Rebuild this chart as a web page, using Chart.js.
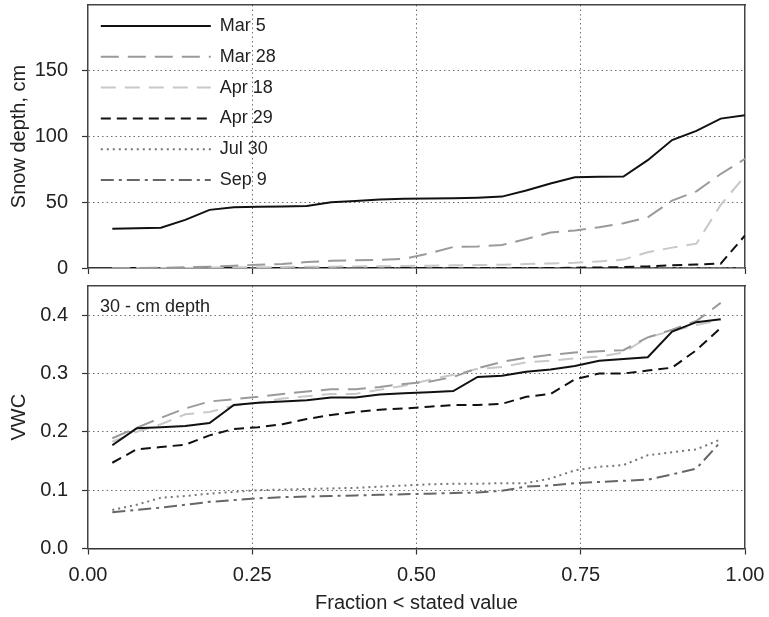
<!DOCTYPE html>
<html>
<head>
<meta charset="utf-8">
<script src="https://cdn.jsdelivr.net/npm/chart.js@4.4.0/dist/chart.umd.min.js"></script>
<style>
  body { margin: 0; background: #fff; }
  #wrap { position: relative; width: 769px; height: 617px; }
  canvas { position: absolute; left: 0; }
  #snow { top: 0; }
  #vwc { top: 280px; }
  #note { position: absolute; left: 100px; top: 296px; line-height: 20px;
          font: 18px "Liberation Sans", Arial, sans-serif; color: #222; }
</style>
</head>
<body>
<div id="wrap">
  <canvas id="snow" width="769" height="280"></canvas>
  <canvas id="vwc" width="769" height="337"></canvas>
  <div id="note">30 - cm depth</div>
</div>
<script>
// fechas de muestreo (una serie por fecha)
const dates = ["Mar 5", "Mar 28", "Apr 18", "Apr 29", "Jul 30", "Sep 9"];

// fracción acumulada (eje x)
const fracSnow = [0.037, 0.074, 0.111, 0.148, 0.185, 0.222, 0.259, 0.296, 0.333, 0.370, 0.407, 0.444, 0.481, 0.519,
  0.556, 0.593, 0.630, 0.667, 0.704, 0.741, 0.778, 0.815, 0.852, 0.889, 0.926, 0.963, 1.000];
const fracVwc = [0.037, 0.074, 0.111, 0.148, 0.185, 0.222, 0.259, 0.296, 0.333, 0.370, 0.407, 0.444, 0.481, 0.519,
  0.556, 0.593, 0.630, 0.667, 0.704, 0.741, 0.778, 0.815, 0.852, 0.889, 0.926, 0.963];

// profundidad de nieve, cm
const snowMar5 = [29.8, 30.2, 30.6, 36.6, 44.2, 46.2, 46.5, 46.8, 47.2, 50, 51, 52, 52.7, 52.8, 53, 53.5, 54.3, 59,
  64.2, 69, 69.3, 69.5, 82, 97.3, 104.3, 113.6, 116.2];
const snowMar28 = [0, 0, 0.2, 0.5, 1, 1.8, 2.5, 3, 4.5, 5.5, 5.8, 6.2, 7, 11, 16, 16.4, 17.5, 22, 27, 28.6, 31, 34,
  38.6, 51.3, 58.3, 71.5, 83];
const snowApr18 = [0, 0, 0, 0, 0.3, 0.5, 0.5, 0.8, 1, 1, 1.2, 1.3, 1.5, 1.8, 2, 2.2, 2.5, 3, 3.5, 4, 5, 6.4, 12, 15.5,
  18.5, 48, 70];
const snowApr29 = [0, 0, 0, 0, 0, 0, 0, 0, 0, 0, 0, 0, 0, 0, 0, 0, 0, 0, 0, 0.2, 0.4, 0.7, 1.2, 2, 2.7, 3.3, 24.8];
const snowJul30 = [0, 0, 0, 0, 0, 0, 0, 0, 0, 0, 0, 0, 0, 0, 0, 0, 0, 0, 0, 0, 0, 0, 0, 0, 0, 0, 0];
const snowSep9 = [0, 0, 0, 0, 0, 0, 0, 0, 0, 0, 0, 0, 0, 0, 0, 0, 0, 0, 0, 0, 0, 0, 0, 0, 0, 0, 0];

// contenido volumétrico de agua a 30 cm
const vwcMar5 = [0.177, 0.206, 0.208, 0.210, 0.215, 0.246, 0.250, 0.252, 0.254, 0.259, 0.259, 0.264, 0.266, 0.268,
  0.270, 0.294, 0.296, 0.303, 0.307, 0.313, 0.322, 0.325, 0.328, 0.372, 0.388, 0.393];
const vwcMar28 = [0.189, 0.207, 0.224, 0.240, 0.252, 0.256, 0.260, 0.265, 0.269, 0.273, 0.273, 0.277, 0.282, 0.286,
  0.294, 0.309, 0.320, 0.327, 0.332, 0.336, 0.338, 0.340, 0.362, 0.375, 0.390, 0.421];
const vwcApr18 = [0.183, 0.200, 0.213, 0.230, 0.234, 0.245, 0.250, 0.257, 0.261, 0.265, 0.265, 0.272, 0.279, 0.289,
  0.298, 0.308, 0.311, 0.319, 0.322, 0.326, 0.329, 0.336, 0.362, 0.373, 0.383, 0.392];
const vwcApr29 = [0.147, 0.170, 0.174, 0.178, 0.194, 0.205, 0.208, 0.213, 0.222, 0.229, 0.234, 0.238, 0.240, 0.243,
  0.246, 0.246, 0.248, 0.260, 0.265, 0.290, 0.300, 0.300, 0.305, 0.310, 0.340, 0.378];
const vwcJul30 = [0.066, 0.075, 0.087, 0.090, 0.094, 0.097, 0.100, 0.101, 0.102, 0.103, 0.104, 0.106, 0.108, 0.110,
  0.111, 0.111, 0.112, 0.112, 0.120, 0.134, 0.140, 0.143, 0.160, 0.165, 0.170, 0.187];
const vwcSep9 = [0.062, 0.066, 0.070, 0.075, 0.080, 0.083, 0.086, 0.088, 0.089, 0.090, 0.091, 0.092, 0.093, 0.094,
  0.095, 0.096, 0.099, 0.106, 0.108, 0.112, 0.114, 0.116, 0.118, 0.127, 0.137, 0.183];

// estilos de línea, en el mismo orden que las fechas
const lineStyles = [
  { color: "#111111", dash: [] },
  { color: "#9a9a9a", dash: [18, 9] },
  { color: "#c8c8c8", dash: [15, 9] },
  { color: "#111111", dash: [10, 6] },
  { color: "#777777", dash: [2, 4] },
  { color: "#666666", dash: [13, 5, 3, 5] },
];

Chart.defaults.font.family = '"Liberation Sans", Arial, Helvetica, sans-serif';
Chart.defaults.font.size = 20;
Chart.defaults.color = "#222";

function buildDatasets(xs, series) {
  return series.map((ys, i) => ({
    label: dates[i],
    data: ys.map((y, j) => ({ x: xs[j], y: y })),
    borderColor: lineStyles[i].color,
    borderDash: lineStyles[i].dash,
    borderWidth: 2,
    pointRadius: 0,
    tension: 0,
    fill: false,
  }));
}

const edgeless = (lo, hi) => (ctx) =>
  ctx.tick && (ctx.tick.value === lo || ctx.tick.value === hi) ? "rgba(0,0,0,0)" : "#6f6f6f";

// quita el relleno extra que Chart.js reserva para las etiquetas de los extremos
function noPad(s) {
  s.paddingTop = 0; s.paddingBottom = 0; s.paddingLeft = 0; s.paddingRight = 0;
}

// eje x común; en el panel superior sin etiquetas
function xAxis(showLabels, height) {
  return {
    type: "linear", min: 0, max: 1,
    ticks: { stepSize: 0.25, display: showLabels, padding: 9, callback: (v) => v.toFixed(2) },
    grid: { color: edgeless(0, 1), lineWidth: 1, tickColor: "#333", tickLength: 6, tickWidth: 1.2 },
    border: { color: "#333", width: 1.5, dash: [1.5, 3] },
    title: { display: showLabels, text: "Fraction < stated value", padding: { top: 0, bottom: 2 } },
    afterFit: (s) => { s.height = height; noPad(s); },
  };
}

function yAxis(max, step, top, title, fmt) {
  return {
    type: "linear", min: 0, max: max,
    ticks: { stepSize: step, padding: 14, callback: fmt },
    grid: { color: edgeless(0, null), lineWidth: 1, tickColor: "#333", tickLength: 6, tickWidth: 1.2 },
    border: { color: "#444", width: 1.5, dash: [1.5, 3] },
    title: { display: true, text: title, padding: { top: 7, bottom: 0 } },
    afterBuildTicks: (s) => { s.ticks = s.ticks.filter((t) => t.value <= top + 1e-9); },
    afterFit: (s) => { s.width = 88; noPad(s); },
  };
}

// ejes vacíos que solo dibujan el marco superior y derecho
function frame(axis, pos, max) {
  return {
    axis: axis, position: pos, type: "linear", min: 0, max: max,
    ticks: { display: false }, grid: { display: false },
    border: { display: true, color: "#444", width: 1.5 },
    afterFit: (s) => { if (axis === "x") s.height = 0; else s.width = 0; noPad(s); },
  };
}

// la leyenda con usePointStyle no copia el trazo discontinuo de la serie
function legendLabels(chart) {
  return Chart.defaults.plugins.legend.labels.generateLabels(chart).map((item, i) =>
    Object.assign(item, { lineDash: lineStyles[i].dash, strokeStyle: lineStyles[i].color, lineWidth: 2 }));
}

new Chart(document.getElementById("snow"), {
  type: "line",
  data: { datasets: buildDatasets(fracSnow, [snowMar5, snowMar28, snowApr18, snowApr29, snowJul30, snowSep9]) },
  options: {
    responsive: false, animation: false, devicePixelRatio: 1,
    layout: { padding: { top: 5, right: 24, bottom: 0, left: 0 } },
    scales: {
      x: xAxis(false, 12),
      y: yAxis(200, 50, 150, "Snow depth, cm", (v) => v),
      xTop: frame("x", "top", 1),
      yRight: frame("y", "right", 200),
    },
    plugins: {
      legend: {
        position: "chartArea", align: "start",
        title: { display: true, text: " ", font: { size: 1 }, padding: { top: 3, bottom: 0 } },
        labels: {
          usePointStyle: true, pointStyle: "line", pointStyleWidth: 110,
          padding: 12.8, font: { size: 18 }, color: "#222",
          generateLabels: legendLabels,
        },
      },
      tooltip: { enabled: false },
    },
  },
});

new Chart(document.getElementById("vwc"), {
  type: "line",
  data: { datasets: buildDatasets(fracVwc, [vwcMar5, vwcMar28, vwcApr18, vwcApr29, vwcJul30, vwcSep9]) },
  options: {
    responsive: false, animation: false, devicePixelRatio: 1,
    layout: { padding: { top: 6, right: 24, bottom: 0, left: 0 } },
    scales: {
      x: xAxis(true, 68.5),
      y: yAxis(0.45, 0.1, 0.4, "VWC", (v) => v.toFixed(1)),
      xTop: frame("x", "top", 1),
      yRight: frame("y", "right", 0.45),
    },
    plugins: { legend: { display: false }, tooltip: { enabled: false } },
  },
});
</script>
</body>
</html>
